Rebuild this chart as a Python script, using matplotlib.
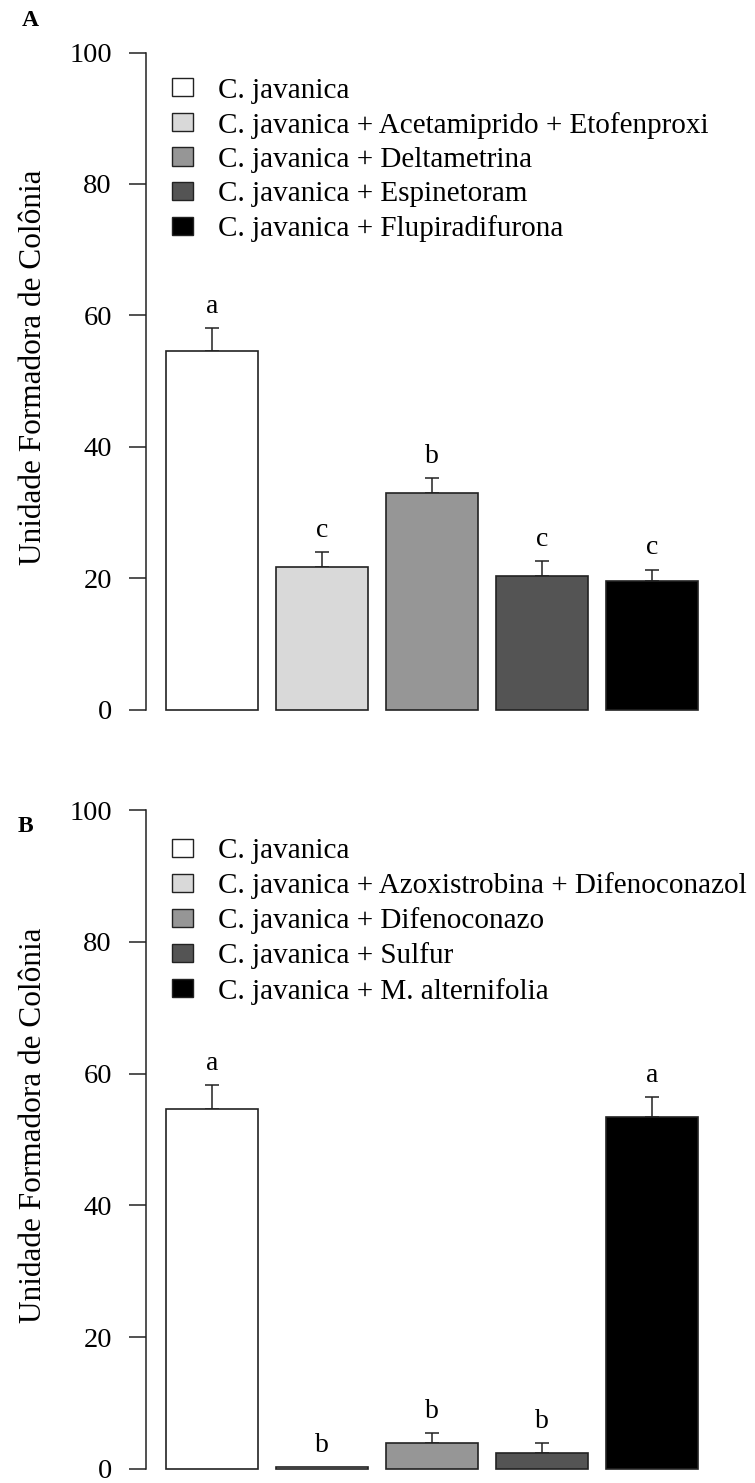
import matplotlib
matplotlib.use("Agg")
import matplotlib.pyplot as plt
from matplotlib.patches import Patch

plt.rcParams['font.family'] = ['Liberation Serif', 'DejaVu Serif']

# ---- data ----
labels_a = ["C. javanica",
            "C. javanica + Acetamiprido + Etofenproxi",
            "C. javanica + Deltametrina",
            "C. javanica + Espinetoram",
            "C. javanica + Flupiradifurona"]
means_a = [54.6, 21.7, 32.9, 20.3, 19.6]
errs_a = [3.4, 2.3, 2.3, 2.3, 1.7]
letters_a = ["a", "c", "b", "c", "c"]

labels_b = ["C. javanica",
            "C. javanica + Azoxistrobina + Difenoconazol",
            "C. javanica + Difenoconazo",
            "C. javanica + Sulfur",
            "C. javanica + M. alternifolia"]
means_b = [54.7, 0.3, 3.9, 2.5, 53.4]
errs_b = [3.5, 0.0, 1.5, 1.4, 3.0]
letters_b = ["a", "b", "b", "b", "a"]

colors = ["#ffffff", "#d9d9d9", "#969696", "#545454", "#000000"]
yticks = [0, 20, 40, 60, 80, 100]
ylabel = "Unidade Formadora de Colônia"

W, H = 755, 1483
fig = plt.figure(figsize=(W / 100, H / 100), dpi=100)

def px_axes(left, right, top, bottom):
    return fig.add_axes([left / W, (H - bottom) / H, (right - left) / W, (bottom - top) / H])

def panel(ax, means, errs, letters, labels, leg_top_frac):
    x = list(range(len(means)))
    ax.bar(x, means, width=0.84, color=colors, edgecolor="#222222",
           linewidth=1.2, clip_on=False, zorder=2)
    for xi, m, e in zip(x, means, errs):
        if e > 0:
            ax.errorbar(xi, m, yerr=[[0], [e]], fmt='none', ecolor='#222222',
                        elinewidth=1.1, capsize=5, capthick=1.1, zorder=1)
    for xi, m, e, l in zip(x, means, errs, letters):
        ax.annotate(l, (xi, m + e), xytext=(0, 11), textcoords='offset points',
                    ha='center', va='baseline', fontsize=20)
    ax.set_xlim(-0.602, 4.62)
    ax.set_ylim(0, 100)
    for s in ['top', 'right', 'bottom']:
        ax.spines[s].set_visible(False)
    ax.spines['left'].set_bounds(0, 100)
    ax.spines['left'].set_linewidth(1.1)
    ax.spines['left'].set_color('#222222')
    ax.set_xticks([])
    ax.set_yticks(yticks)
    ax.tick_params(axis='y', direction='out', length=12.5, width=1.1,
                   color='#222222', pad=12, labelsize=20.5)
    ax.set_ylabel(ylabel, fontsize=22.5)
    ax.yaxis.set_label_coords(-0.171, 0.521)
    handles = [Patch(facecolor=c, edgecolor='#222222', linewidth=1.0) for c in colors]
    ax.legend(handles, labels, loc='upper left', bbox_to_anchor=(0.045, leg_top_frac),
              frameon=False, fontsize=21, borderaxespad=0, borderpad=0,
              handlelength=0.72, handleheight=0.58, handletextpad=0.85,
              labelspacing=0.28)

ax_a = px_axes(146, 720, 52.5, 709.5)
panel(ax_a, means_a, errs_a, letters_a, labels_a, 1 - 25 / 657)
ax_b = px_axes(146, 720, 810, 1469)
panel(ax_b, means_b, errs_b, letters_b, labels_b, 1 - 28 / 659)

fig.text(30 / W, 1 - 20 / H, "A", fontsize=17, fontweight='bold', ha='center', va='center')
fig.text(25 / W, 1 - 826 / H, "B", fontsize=17, fontweight='bold', ha='center', va='center')

fig.savefig("out.png", dpi=100)
